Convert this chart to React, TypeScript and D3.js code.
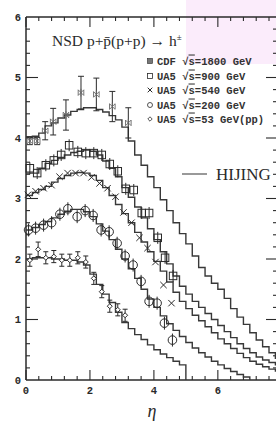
import * as d3 from 'd3';

// HIJING histogram bin edges (eta)
const etaBins = [0, 0.2, 0.4, 0.6, 0.8, 1.0, 1.2, 1.4, 1.6, 1.8, 2.0, 2.2, 2.4, 2.6, 2.8, 3.0, 3.2, 3.4, 3.6, 3.8, 4.0,
  4.2, 4.4, 4.6, 4.8, 5.0, 5.2, 5.4, 5.6, 5.8, 6.0, 6.2, 6.4, 6.6, 6.8, 7.0, 7.2, 7.4, 7.6, 7.8, 8.0];

// HIJING dN/deta per bin
const hijing1800 = [4.02, 4.03, 4.08, 4.2, 4.25, 4.33, 4.38, 4.44, 4.47, 4.5, 4.5, 4.47, 4.43, 4.37, 4.3, 4.18, 3.95, 3.72, 3.55, 3.36,
  3.18, 2.98, 2.8, 2.6, 2.42, 2.25, 2.05, 1.86, 1.72, 1.6, 1.5, 1.35, 1.18, 1.04, 0.92, 0.78, 0.66, 0.55, 0.45, 0.36];
const hijing900 = [3.42, 3.42, 3.5, 3.58, 3.63, 3.68, 3.72, 3.76, 3.78, 3.8, 3.78, 3.72, 3.62, 3.5, 3.36, 3.18, 3.02, 2.86, 2.68, 2.5,
  2.32, 2.12, 1.92, 1.72, 1.55, 1.42, 1.3, 1.2, 1.1, 1.0, 0.9, 0.8, 0.7, 0.6, 0.52, 0.45, 0.38, 0.33, 0.29, 0.25];
const hijing540 = [3.05, 3.1, 3.15, 3.2, 3.27, 3.33, 3.38, 3.42, 3.43, 3.42, 3.38, 3.3, 3.18, 3.05, 2.9, 2.75, 2.6, 2.44, 2.28, 2.12,
  1.96, 1.8, 1.62, 1.45, 1.3, 1.18, 1.07, 0.98, 0.88, 0.78, 0.68, 0.6, 0.52, 0.44, 0.37, 0.31, 0.26, 0.22, 0.18, 0.15];
const hijing200 = [2.48, 2.52, 2.57, 2.62, 2.68, 2.74, 2.79, 2.82, 2.82, 2.78, 2.7, 2.58, 2.46, 2.32, 2.16, 2.0, 1.84, 1.68, 1.5, 1.34,
  1.2, 1.06, 0.93, 0.82, 0.72, 0.62, 0.53, 0.45, 0.38, 0.31, 0.25, 0.19, 0.14, 0.09, 0.05];
const hijing53 = [2.0, 2.02, 2.02, 2.02, 2.0, 2.0, 1.98, 1.98, 1.95, 1.9, 1.75, 1.58, 1.42, 1.28, 1.12, 0.95, 0.85, 0.75, 0.67, 0.58,
  0.5, 0.43, 0.37, 0.31, 0.25];

// measured points
const cdfEta = [0.12, 0.35, 0.6, 0.85, 1.25, 1.72, 2.2, 2.7, 3.2];
const cdfVal = [3.95, 3.95, 4.12, 4.27, 4.38, 4.75, 4.72, 4.52, 4.25];
const cdfErr = [0.06, 0.06, 0.15, 0.22, 0.25, 0.27, 0.27, 0.25, 0.25];

const ua900Eta = [0.12, 0.35, 0.62, 0.87, 1.1, 1.35, 1.62, 1.87, 2.12, 2.37, 2.62, 2.87, 3.12, 3.37, 3.62, 3.85, 4.12, 4.35, 4.6];
const ua900Val = [3.5, 3.42, 3.55, 3.63, 3.72, 3.88, 3.77, 3.75, 3.75, 3.72, 3.57, 3.45, 3.16, 3.14, 2.76, 2.76, 2.35, 2.02, 1.72];

const ua540Eta = [0.06, 0.3, 0.55, 0.8, 1.05, 1.3, 1.55, 1.8, 2.05, 2.3, 2.55, 2.8, 3.05, 3.3, 3.55, 3.8, 4.05, 4.3, 4.55];
const ua540Val = [3.06, 3.12, 3.17, 3.22, 3.36, 3.42, 3.42, 3.42, 3.35, 3.25, 3.17, 3.03, 2.77, 2.6, 2.35, 2.18, 1.95, 1.57, 1.27];

const ua200Eta = [0.08, 0.3, 0.55, 0.8, 1.06, 1.31, 1.6, 1.85, 2.1, 2.35, 2.6, 2.85, 3.1, 3.35, 3.6, 3.85, 4.1, 4.33, 4.58];
const ua200Val = [2.48, 2.51, 2.56, 2.6, 2.74, 2.83, 2.7, 2.8, 2.72, 2.48, 2.45, 2.26, 2.05, 1.9, 1.63, 1.3, 1.27, 0.94, 0.66];

const ua53Eta = [0.12, 0.38, 0.62, 0.87, 1.12, 1.37, 1.62, 1.87, 2.12, 2.37, 2.62, 2.87, 3.1];
const ua53Val = [1.98, 2.16, 2.02, 2.04, 1.98, 1.98, 2.02, 1.95, 1.68, 1.46, 1.22, 1.16, 1.07];
const ua53Err = [0.1, 0.12, 0.1, 0.1, 0.1, 0.1, 0.1, 0.1, 0.1, 0.1, 0.1, 0.1, 0.1];

const legendLabels = ['CDF', 'UA5', 'UA5', 'UA5', 'UA5'];
const legendEnergies = ['=1800 GeV', '=900 GeV', '=540 GeV', '=200 GeV', '=53 GeV(pp)'];
const yTicks = [0, 1, 2, 3, 4, 5, 6];
const xTicks = [0, 2, 4, 6];

const ink = '#2a2a2a';
const mono = '"Liberation Mono", "DejaVu Sans Mono", monospace';
const serif = '"Liberation Serif", "DejaVu Serif", serif';

const x = d3.scaleLinear().domain([0, 7.85]).range([26, 277]);
const y = d3.scaleLinear().domain([0, 6]).range([380, 17]);

const step = d3.line<[number, number]>().x(d => x(d[0])).y(d => y(d[1])).curve(d3.curveStepAfter);

function histPath(vals: number[], dropToZero: boolean) {
  const pts: [number, number][] = vals.map((v, i) => [etaBins[i], v]);
  const end = etaBins[vals.length];
  pts.push([end, vals[vals.length - 1]]);
  if (dropToZero) pts.push([end, 0]);
  return step(pts) || '';
}

const Square = ({ cx, cy, s }: { cx: number; cy: number; s: number }) => (
  <rect x={cx - s / 2} y={cy - s / 2} width={s} height={s} fill="none" stroke={ink} strokeWidth={1} />
);
const Cross = ({ cx, cy, s }: { cx: number; cy: number; s: number }) => (
  <path d={`M${cx - s},${cy - s}L${cx + s},${cy + s}M${cx - s},${cy + s}L${cx + s},${cy - s}`} stroke={ink} strokeWidth={1} />
);
const Star = ({ cx, cy, s }: { cx: number; cy: number; s: number }) => (
  <g stroke="#666" strokeWidth={0.9} fill="none">
    <path d={`M${cx - s},${cy - s}L${cx + s},${cy + s}M${cx - s},${cy + s}L${cx + s},${cy - s}M${cx},${cy - s - 1}L${cx},${cy + s + 1}`} />
    <path d={`M${cx - s},${cy - s}L${cx - s},${cy + s}M${cx + s},${cy - s}L${cx + s},${cy + s}`} />
  </g>
);

export default function App() {
  const leftMinor = d3.range(0, 30).map(i => i * 0.2).filter(v => Math.abs(v - Math.round(v)) > 0.01);
  const xMinor = d3.range(0, 20).map(i => i * 0.4).filter(v => Math.abs(v / 2 - Math.round(v / 2)) > 0.01);
  const legendY = [61, 76, 90, 105, 119];

  return (
    <svg width={276} height={423} style={{ position: 'absolute', left: 0, top: 0, background: '#fff' }}>
      <rect x={186} y={0} width={90} height={64} fill="#fbecfb" />

      {/* frame */}
      <g stroke={ink} strokeWidth={1.5} fill="none">
        <line x1={x(0)} x2={x(7.85)} y1={y(0)} y2={y(0)} />
        <line x1={x(0)} x2={x(7.85)} y1={y(6)} y2={y(6)} />
        <line x1={x(0)} x2={x(0)} y1={y(0)} y2={y(6)} />
        <line x1={x(7.85)} x2={x(7.85)} y1={y(0)} y2={y(6)} />
      </g>

      {/* ticks */}
      <g stroke={ink} strokeWidth={1.1}>
        {yTicks.slice(1, 6).map(t => (
          <g key={'ym' + t}>
            <line x1={x(0)} x2={x(0) + 12} y1={y(t)} y2={y(t)} />
            <line x1={x(7.85)} x2={x(7.85) - 11} y1={y(t)} y2={y(t)} />
          </g>
        ))}
        {leftMinor.map(t => (
          <g key={'yn' + t}>
            <line x1={x(0)} x2={x(0) + 4} y1={y(t)} y2={y(t)} />
            <line x1={x(7.85)} x2={x(7.85) - 4} y1={y(t)} y2={y(t)} />
          </g>
        ))}
        {xTicks.map(t => (
          <g key={'xm' + t}>
            <line x1={x(t)} x2={x(t)} y1={y(0)} y2={y(0) - 10} />
            <line x1={x(t)} x2={x(t)} y1={y(6)} y2={y(6) + 10} />
          </g>
        ))}
        {xMinor.map(t => (
          <g key={'xn' + t}>
            <line x1={x(t)} x2={x(t)} y1={y(0)} y2={y(0) - 4} />
            <line x1={x(t)} x2={x(t)} y1={y(6)} y2={y(6) + 4} />
          </g>
        ))}
      </g>

      <g fontFamily={mono} fontWeight="bold" fontSize={10.5} fill={ink}>
        {yTicks.map(t => (
          <text key={'yl' + t} x={21} y={y(t) + 3.5} textAnchor="end">{t}</text>
        ))}
        {xTicks.map(t => (
          <text key={'xl' + t} x={x(t)} y={394} textAnchor="middle">{t}</text>
        ))}
      </g>
      <text x={152} y={417} textAnchor="middle" fontFamily={serif} fontStyle="italic" fontSize={18} fill={ink}>η</text>

      {/* HIJING histograms */}
      <g stroke="#383838" strokeWidth={1.4} fill="none">
        <path d={histPath(hijing1800, false)} />
        <path d={histPath(hijing900, false)} />
        <path d={histPath(hijing540, false)} />
        <path d={histPath(hijing200, true)} />
        <path d={histPath(hijing53, true)} />
      </g>

      {/* CDF */}
      {cdfEta.map((e, i) => (
        <g key={'cdf' + i}>
          <g stroke={ink} strokeWidth={1}>
            <line x1={x(e)} x2={x(e)} y1={y(cdfVal[i] - cdfErr[i])} y2={y(cdfVal[i] + cdfErr[i])} />
            <line x1={x(e) - 3} x2={x(e) + 3} y1={y(cdfVal[i] - cdfErr[i])} y2={y(cdfVal[i] - cdfErr[i])} />
            <line x1={x(e) - 3} x2={x(e) + 3} y1={y(cdfVal[i] + cdfErr[i])} y2={y(cdfVal[i] + cdfErr[i])} />
          </g>
          <Star cx={x(e)} cy={y(cdfVal[i])} s={2.8} />
        </g>
      ))}

      {/* UA5 900 */}
      {ua900Eta.map((e, i) => (
        <g key={'u9' + i}>
          <line x1={x(e)} x2={x(e)} y1={y(ua900Val[i]) - 6} y2={y(ua900Val[i]) + 6} stroke={ink} strokeWidth={1} />
          <Square cx={x(e)} cy={y(ua900Val[i])} s={7.5} />
        </g>
      ))}

      {/* UA5 540 */}
      {ua540Eta.map((e, i) => (
        <g key={'u5' + i}>
          <Cross cx={x(e)} cy={y(ua540Val[i])} s={3.2} />
        </g>
      ))}

      {/* UA5 200 */}
      {ua200Eta.map((e, i) => (
        <g key={'u2' + i}>
          <line x1={x(e)} x2={x(e)} y1={y(ua200Val[i]) - 6.5} y2={y(ua200Val[i]) + 6.5} stroke={ink} strokeWidth={1} />
          <circle cx={x(e)} cy={y(ua200Val[i])} r={4.3} fill="none" stroke={ink} strokeWidth={1} />
        </g>
      ))}

      {/* UA5 53 */}
      {ua53Eta.map((e, i) => (
        <g key={'u53' + i} stroke={ink} strokeWidth={1}>
          <line x1={x(e)} x2={x(e)} y1={y(ua53Val[i] - ua53Err[i])} y2={y(ua53Val[i] + ua53Err[i])} />
          <line x1={x(e) - 2.5} x2={x(e) + 2.5} y1={y(ua53Val[i] - ua53Err[i])} y2={y(ua53Val[i] - ua53Err[i])} />
          <line x1={x(e) - 2.5} x2={x(e) + 2.5} y1={y(ua53Val[i] + ua53Err[i])} y2={y(ua53Val[i] + ua53Err[i])} />
          <path d={`M${x(e)},${y(ua53Val[i]) - 2.5}L${x(e) + 2.5},${y(ua53Val[i])}L${x(e)},${y(ua53Val[i]) + 2.5}L${x(e) - 2.5},${y(ua53Val[i])}Z`} fill="#fff" />
        </g>
      ))}

      {/* title */}
      <text x={52} y={46} fontFamily={serif} fontSize={15.5} fill={ink}>
        NSD p+p̄(p+p) → h<tspan dy={-6} fontSize={9}>±</tspan>
      </text>

      {/* legend */}
      <g fontFamily={mono} fontWeight="bold" fontSize={10.5} fill="#333">
        {legendLabels.map((lab, i) => (
          <text key={'lt' + i} x={157} y={legendY[i] + 3.5}>
            {lab} √<tspan textDecoration="overline">s</tspan>{legendEnergies[i]}
          </text>
        ))}
      </g>
      <rect x={147.5} y={legendY[0] - 2.5} width={5} height={5} fill="#777" stroke={ink} strokeWidth={0.6} />
      <rect x={147.5} y={legendY[1] - 2.5} width={5} height={5} fill="none" stroke={ink} strokeWidth={0.8} />
      <Cross cx={150} cy={legendY[2]} s={2.3} />
      <circle cx={150} cy={legendY[3]} r={2.5} fill="none" stroke={ink} strokeWidth={0.8} />
      <path d={`M150,${legendY[4] - 2.2}L152.2,${legendY[4]}L150,${legendY[4] + 2.2}L147.8,${legendY[4]}Z`} fill="none" stroke={ink} strokeWidth={0.8} />

      <line x1={182} x2={207} y1={174} y2={174} stroke="#555" strokeWidth={1.2} />
      <text x={216} y={180} fontFamily={serif} fontSize={17} fill={ink}>HIJING</text>
    </svg>
  );
}
